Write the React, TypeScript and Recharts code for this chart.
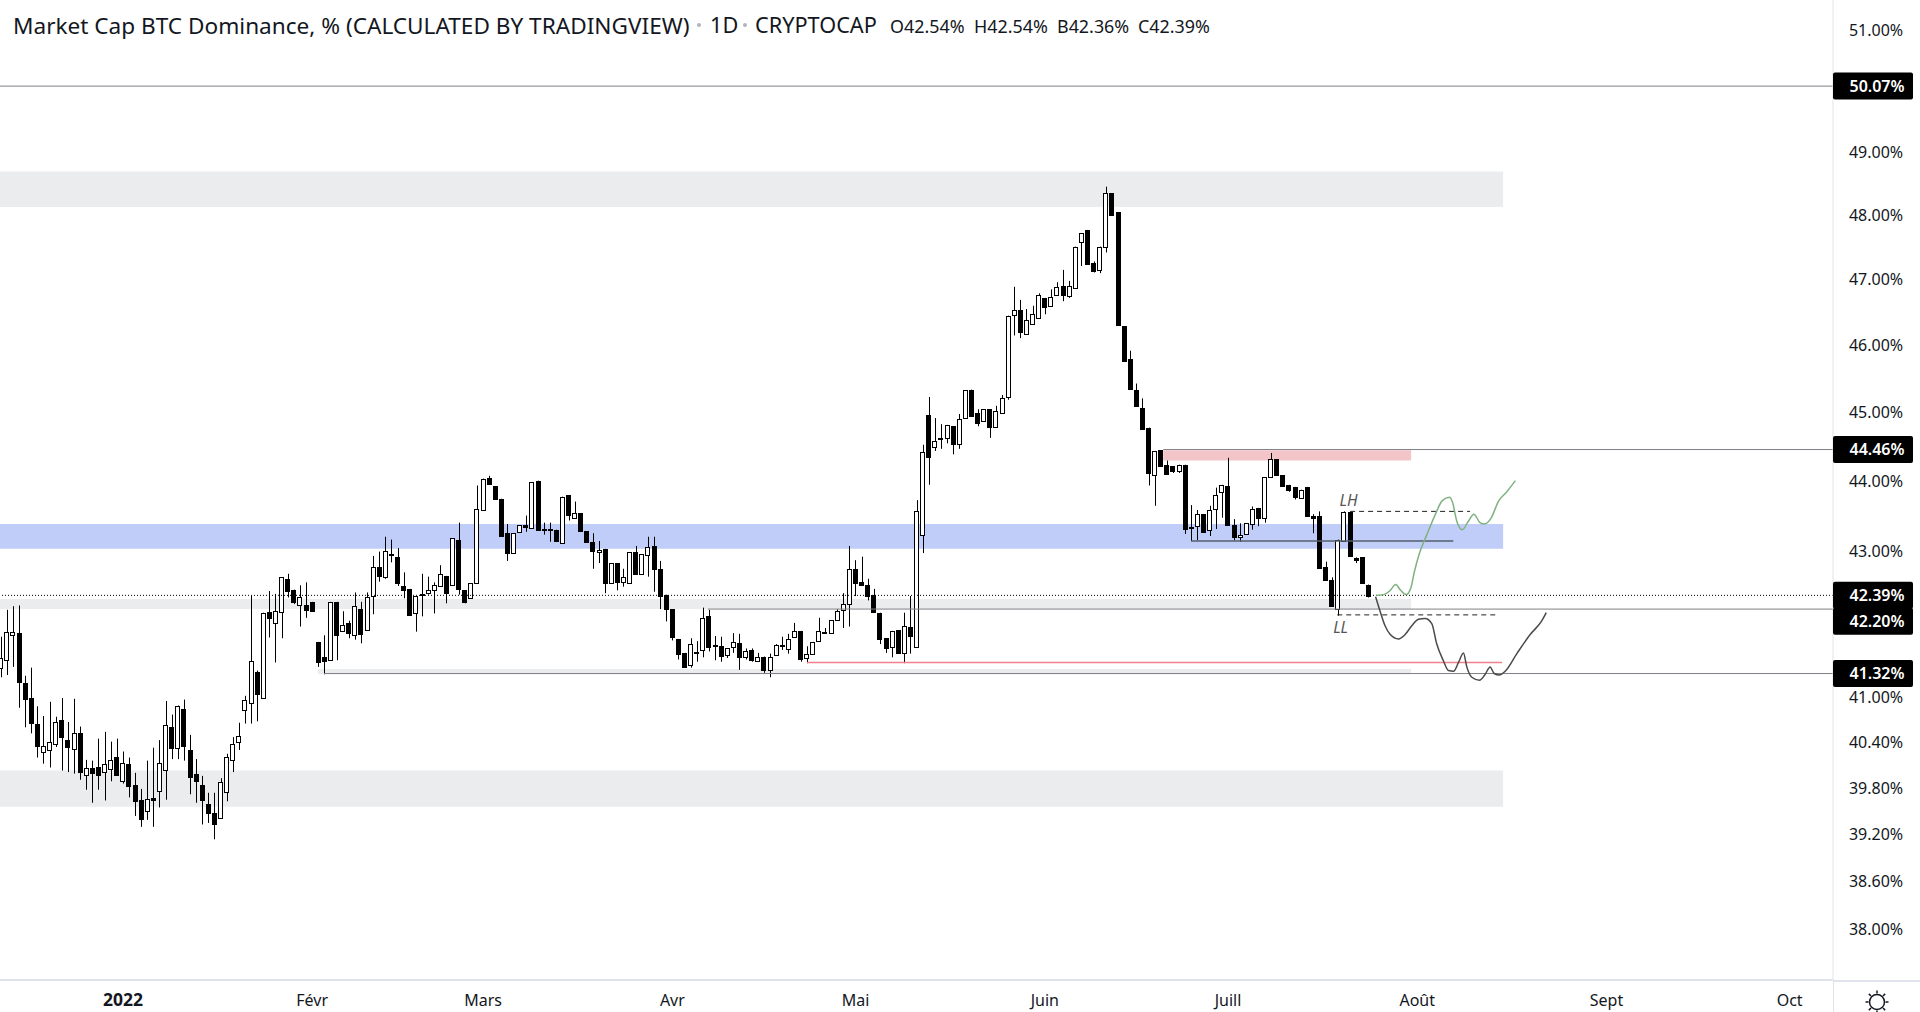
import { Bar, ComposedChart, Line, ReferenceArea, ReferenceDot, ReferenceLine, XAxis, YAxis } from 'recharts'

const opens = [
  41.40, 41.51, 41.85, 41.87, 41.19, 40.99, 40.64, 40.27, 40.30, 40.38, 40.70, 40.43, 40.32, 40.53, 39.97, 40.06, 40.08, 40.02, 40.05, 40.21,
  39.90, 40.12, 39.84, 39.64, 39.50, 39.67, 39.76, 40.04, 40.60, 40.33, 40.84, 40.30, 39.98, 39.84, 39.60, 39.48, 39.41, 39.75, 40.17, 40.41,
  40.83, 40.92, 41.34, 40.99, 42.16, 42.01, 42.15, 42.62, 42.47, 42.26, 42.26, 42.30, 41.75, 41.55, 41.50, 42.30, 41.90, 42.01, 41.84, 42.20,
  41.91, 42.38, 42.78, 42.64, 42.97, 42.93, 42.52, 42.48, 42.15, 42.39, 42.42, 42.47, 42.52, 42.66, 42.53, 43.16, 42.46, 42.35, 42.56, 43.60,
  44.05, 43.93, 43.75, 43.26, 42.98, 43.27, 43.37, 43.33, 44.01, 43.32, 43.32, 43.31, 43.13, 43.80, 43.48, 43.54, 43.29, 43.14, 43.00, 43.04,
  42.56, 42.84, 42.57, 42.56, 42.99, 42.68, 42.96, 43.08, 42.76, 42.40, 42.20, 41.79, 41.60, 41.43, 41.61, 41.64, 42.10, 41.71, 41.69, 41.57,
  41.68, 41.73, 41.54, 41.64, 41.50, 41.55, 41.38, 41.57, 41.71, 41.66, 41.82, 41.90, 41.52, 41.58, 41.76, 41.88, 41.87, 42.05, 42.19, 42.26,
  42.75, 42.58, 42.53, 42.40, 42.15, 41.80, 41.68, 41.91, 41.60, 41.95, 41.68, 43.23, 44.97, 44.50, 44.63, 44.63, 44.80, 44.53, 44.91, 45.34,
  44.99, 44.87, 45.05, 44.78, 45.00, 45.23, 46.46, 46.53, 46.17, 46.32, 46.42, 46.72, 46.60, 46.76, 46.90, 46.75, 46.87, 47.58, 47.77, 47.25,
  47.15, 47.51, 48.35, 48.05, 46.29, 45.80, 45.33, 45.07, 44.78, 44.09, 44.45, 44.23, 44.22, 44.15, 44.24, 43.35, 43.36, 43.53, 43.31, 43.60,
  43.85, 43.93, 43.38, 43.21, 43.24, 43.38, 43.62, 43.47, 44.06, 44.32, 44.09, 43.95, 43.92, 43.77, 43.92, 43.50, 43.50, 42.79, 42.61, 42.21,
  43.15, 43.56, 42.91, 42.92, 42.54,
]
const closes = [
  41.53, 41.89, 41.89, 41.20, 40.98, 40.65, 40.35, 40.35, 40.40, 40.67, 40.48, 40.34, 40.53, 40.02, 40.06, 40.00, 39.98, 40.12, 40.17, 39.98,
  40.13, 39.83, 39.63, 39.39, 39.66, 39.65, 40.13, 40.63, 40.32, 40.89, 40.35, 39.94, 39.89, 39.64, 39.48, 39.34, 39.88, 40.21, 40.38, 40.49,
  40.97, 41.49, 41.04, 42.15, 42.08, 42.18, 42.64, 42.46, 42.31, 42.37, 42.19, 42.18, 41.48, 41.50, 42.30, 41.84, 41.98, 41.87, 42.24, 41.86,
  42.37, 42.78, 42.65, 43.01, 42.95, 42.56, 42.47, 42.12, 42.38, 42.41, 42.46, 42.54, 42.69, 42.43, 43.19, 42.47, 42.29, 42.56, 43.60, 44.04,
  43.97, 43.74, 43.23, 42.98, 43.26, 43.37, 43.34, 43.99, 43.31, 43.30, 43.30, 43.15, 43.78, 43.51, 43.55, 43.28, 43.14, 43.02, 43.03, 42.56,
  42.84, 42.57, 42.64, 42.99, 42.68, 42.96, 43.07, 42.76, 42.39, 42.20, 41.81, 41.58, 41.41, 41.72, 41.59, 42.08, 41.67, 41.69, 41.55, 41.66,
  41.75, 41.54, 41.62, 41.50, 41.55, 41.37, 41.55, 41.71, 41.69, 41.79, 41.90, 41.52, 41.58, 41.75, 41.90, 41.87, 42.05, 42.18, 42.27, 42.75,
  42.56, 42.54, 42.38, 42.16, 41.80, 41.67, 41.90, 41.59, 41.97, 41.82, 43.58, 44.42, 44.36, 44.59, 44.62, 44.82, 44.53, 44.90, 45.33, 44.96,
  44.85, 45.05, 44.78, 45.02, 45.22, 46.45, 46.54, 46.19, 46.38, 46.47, 46.77, 46.58, 46.74, 46.88, 46.76, 46.90, 47.51, 47.72, 47.24, 47.13,
  47.51, 48.35, 48.01, 46.31, 45.76, 45.35, 45.10, 44.76, 44.12, 44.44, 44.22, 44.10, 44.15, 44.24, 43.32, 43.34, 43.53, 43.28, 43.59, 43.80,
  43.95, 43.37, 43.21, 43.24, 43.40, 43.60, 43.48, 44.06, 44.32, 44.09, 43.93, 43.88, 43.77, 43.88, 43.50, 43.47, 42.77, 42.61, 42.25, 43.17,
  43.56, 42.94, 42.88, 42.55, 42.39,
]
const highs = [
  41.82, 42.19, 42.24, 42.25, 41.29, 41.40, 40.88, 40.75, 40.94, 40.74, 40.99, 40.67, 40.98, 40.61, 40.17, 40.16, 40.45, 40.54, 40.41, 40.45,
  40.28, 40.20, 40.00, 39.79, 40.16, 40.33, 40.43, 40.95, 40.77, 40.89, 40.97, 40.50, 40.18, 39.96, 39.74, 39.74, 39.93, 40.25, 40.47, 40.66,
  41.02, 42.39, 41.36, 42.15, 42.45, 42.41, 42.64, 42.69, 42.47, 42.53, 42.57, 42.30, 41.75, 41.84, 42.30, 42.30, 42.17, 42.04, 42.43, 42.30,
  42.43, 42.94, 43.00, 43.21, 43.17, 43.05, 42.71, 42.48, 42.38, 42.69, 42.65, 42.57, 42.81, 42.66, 43.19, 43.41, 42.46, 42.56, 43.94, 44.04,
  44.08, 43.93, 43.75, 43.39, 43.26, 43.37, 43.51, 43.99, 44.01, 43.41, 43.41, 43.31, 43.78, 43.80, 43.71, 43.54, 43.29, 43.26, 43.15, 43.04,
  42.84, 42.84, 42.76, 42.99, 43.08, 42.96, 43.21, 43.21, 42.87, 42.40, 42.20, 41.79, 41.60, 41.80, 41.76, 42.22, 42.19, 41.83, 41.82, 41.66,
  41.87, 41.86, 41.66, 41.66, 41.60, 41.55, 41.59, 41.72, 41.82, 41.86, 42.01, 41.90, 41.69, 41.75, 42.08, 41.94, 42.05, 42.20, 42.42, 43.08,
  42.88, 42.93, 42.62, 42.48, 42.15, 41.80, 41.90, 41.91, 42.15, 42.38, 43.73, 44.53, 45.23, 44.92, 44.83, 44.82, 44.80, 44.98, 45.33, 45.34,
  45.05, 45.05, 45.05, 45.10, 45.26, 46.45, 46.89, 46.69, 46.55, 46.60, 46.79, 46.72, 46.85, 46.96, 47.15, 46.98, 47.51, 47.72, 47.77, 47.28,
  47.51, 48.45, 48.35, 48.05, 46.29, 45.92, 45.43, 45.21, 44.78, 44.44, 44.45, 44.30, 44.22, 44.24, 44.24, 43.66, 43.59, 43.53, 43.65, 43.91,
  43.95, 44.34, 43.46, 43.40, 43.40, 43.64, 43.62, 44.06, 44.41, 44.32, 44.09, 43.95, 43.92, 43.88, 43.92, 43.53, 43.57, 42.86, 42.64, 43.17,
  43.57, 43.56, 42.92, 42.92, 42.54,
]
const lows = [
  41.27, 41.30, 41.41, 40.86, 40.60, 40.52, 40.20, 40.12, 40.07, 40.34, 40.03, 40.01, 39.99, 39.91, 39.78, 39.61, 39.78, 39.64, 39.89, 39.98,
  39.86, 39.68, 39.44, 39.30, 39.39, 39.30, 39.55, 39.65, 40.18, 40.18, 40.16, 39.72, 39.61, 39.33, 39.35, 39.14, 39.41, 39.63, 40.01, 40.30,
  40.65, 40.65, 40.68, 40.99, 41.81, 41.47, 41.80, 42.36, 42.27, 41.96, 42.08, 42.17, 41.41, 41.31, 41.50, 41.50, 41.90, 41.80, 41.78, 41.73,
  41.91, 42.13, 42.58, 42.62, 42.85, 42.52, 42.35, 42.12, 41.89, 42.10, 42.40, 42.14, 42.52, 42.28, 42.53, 42.40, 42.28, 42.35, 42.56, 43.60,
  43.97, 43.74, 43.23, 42.87, 42.98, 43.27, 43.28, 43.33, 43.31, 43.24, 43.14, 43.14, 43.13, 43.44, 43.48, 43.28, 43.14, 42.76, 42.84, 42.42,
  42.56, 42.46, 42.51, 42.56, 42.68, 42.68, 42.65, 42.44, 42.20, 42.03, 41.77, 41.51, 41.41, 41.40, 41.48, 41.54, 41.62, 41.50, 41.48, 41.53,
  41.60, 41.37, 41.51, 41.48, 41.50, 41.33, 41.27, 41.57, 41.64, 41.59, 41.82, 41.48, 41.46, 41.58, 41.76, 41.86, 41.87, 42.05, 41.94, 41.96,
  42.38, 42.54, 42.32, 42.16, 41.72, 41.60, 41.54, 41.59, 41.46, 41.59, 41.68, 42.98, 43.95, 44.44, 44.47, 44.55, 44.39, 44.47, 44.91, 44.96,
  44.80, 44.87, 44.63, 44.78, 45.00, 45.19, 46.15, 46.11, 46.17, 46.32, 46.42, 46.47, 46.60, 46.76, 46.67, 46.72, 46.87, 47.21, 47.24, 47.11,
  47.10, 47.42, 48.01, 46.31, 45.76, 45.35, 45.10, 44.76, 43.94, 43.65, 44.22, 44.10, 44.12, 44.12, 43.25, 43.15, 43.16, 43.28, 43.22, 43.32,
  43.48, 43.37, 43.16, 43.14, 43.24, 43.31, 43.36, 43.41, 44.06, 44.09, 43.93, 43.85, 43.74, 43.77, 43.50, 43.26, 42.77, 42.61, 42.25, 42.11,
  43.15, 42.94, 42.84, 42.55, 42.36,
]

const monthTicks = [20, 51, 79, 110, 140, 171, 201, 232, 263, 293]
const monthLabels = ['2022', 'Févr', 'Mars', 'Avr', 'Mai', 'Juin', 'Juill', 'Août', 'Sept', 'Oct']
const priceTicks = [38, 38.6, 39.2, 39.8, 40.4, 41, 41.32, 42.2, 42.39, 43, 44, 44.46, 45, 46, 47, 48, 49, 50.07, 51]
const taggedPrices = [50.07, 44.46, 42.39, 42.2, 41.32]

// hand drawn scenarios right of the last candle
const greenX = [225.28, 226.48, 227.48, 228.48, 229.28, 230.18, 230.98, 231.48, 232.38, 233.58, 234.88, 236.08, 237.28, 237.78, 238.48, 239.38, 240.38, 241.28, 242.28, 242.98, 244.08, 245.28, 246.68, 248.08]
const greenY = [42.39, 42.40, 42.45, 42.54, 42.46, 42.40, 42.50, 42.70, 42.98, 43.24, 43.51, 43.72, 43.77, 43.70, 43.43, 43.31, 43.43, 43.53, 43.41, 43.39, 43.47, 43.71, 43.85, 44.01]
const blackX = [225.18, 225.88, 226.73, 227.58, 228.92, 230.01, 231.11, 232.2, 233.29, 234.38, 235.2, 236.3, 237.12, 237.94, 238.76, 239.57, 240.12, 240.94, 242.2, 243.13, 243.94, 244.6, 245.48, 246.4, 248.32, 250.5, 252.42, 253.13]
const blackY = [42.37, 42.18, 41.97, 41.85, 41.79, 41.85, 41.97, 42.06, 42.07, 42.00, 41.72, 41.49, 41.36, 41.35, 41.47, 41.60, 41.41, 41.27, 41.23, 41.31, 41.41, 41.32, 41.30, 41.35, 41.59, 41.85, 42.04, 42.15]

const candles = opens.map((open, i) => ({
  day: i,
  open,
  close: closes[i],
  wick: [lows[i], highs[i]],
  body: [Math.min(open, closes[i]), Math.max(open, closes[i])],
}))
const greenPath = greenX.map((day, i) => ({ day, price: greenY[i] }))
const blackPath = blackX.map((day, i) => ({ day, price: blackY[i] }))

const FONT = '"Noto Sans", sans-serif'
const INK = '#131722'
const BORDER = '#e0e3eb'
const FIRST_DAY = -0.13
const LAST_DAY = 300.1
const ZONE_GREY = '#ebecee'
const LINE_GREY = '#7f8186'

function Wick({ x, y, width, height }: any) {
  return <rect x={Math.floor(x + width / 2)} y={y} width={1} height={height} fill="#000" />
}

function Body({ x, y, width, height, payload }: any) {
  const up = payload.close >= payload.open
  return (
    <rect
      x={Math.floor(x + width / 2) - 1.5}
      y={Math.round(y) + 0.5}
      width={4}
      height={Math.max(Math.round(height), 1)}
      fill={up ? '#fff' : '#000'}
      stroke="#000"
    />
  )
}

function PriceTick({ x, y, payload }: any) {
  const value = payload.value
  const label = value.toFixed(2) + '%'
  if (taggedPrices.includes(value)) {
    const cy = value === 42.2 ? y + 12.2 : y
    return (
      <g>
        <rect x={x} y={cy - 13.5} width={80} height={27} rx={2} fill="#000" />
        <text x={x + 44} y={cy + 5.5} textAnchor="middle" fontFamily={FONT} fontSize={16} fontWeight={600} fill="#fff">{label}</text>
      </g>
    )
  }
  return <text x={x + 43} y={y + 5.7} textAnchor="middle" fontFamily={FONT} fontSize={16} fill={INK}>{label}</text>
}

function MonthTick({ x, payload }: any) {
  const label = monthLabels[monthTicks.indexOf(payload.value)]
  return <text x={x} y={1006} textAnchor="middle" fontFamily={FONT} fontSize={label === '2022' ? 17.5 : 16} fontWeight={label === '2022' ? 700 : 400} fill={INK}>{label}</text>
}

function SettingsIcon() {
  const rays = [0, 45, 90, 135, 180, 225, 270, 315]
  return (
    <svg width={30} height={30} style={{ position: 'absolute', left: 1862, top: 987 }}>
      <circle cx={15} cy={15} r={7.5} fill="none" stroke={INK} strokeWidth={1.5} />
      {rays.map((a) => (
        <line key={a} x1={15} y1={6.5} x2={15} y2={3.5} stroke={INK} strokeWidth={1.5} transform={`rotate(${a} 15 15)`} />
      ))}
    </svg>
  )
}

const headerItems = [
  { text: 'Market Cap BTC Dominance, % (CALCULATED BY TRADINGVIEW)', left: 13, size: 22.6, mid: 25 },
  { text: '1D', left: 710, size: 21.7, mid: 25 },
  { text: 'CRYPTOCAP', left: 755, size: 21.7, mid: 25 },
  { text: 'O42.54%', left: 890, size: 17.9, mid: 26 },
  { text: 'H42.54%', left: 974, size: 17.9, mid: 26 },
  { text: 'B42.36%', left: 1057, size: 17.9, mid: 26 },
  { text: 'C42.39%', left: 1138, size: 17.9, mid: 26 },
]

export default function App() {
  return (
    <div style={{ position: 'absolute', left: 0, top: 0, width: 1920, height: 1012, background: '#fff', overflow: 'hidden' }}>
      <ComposedChart width={1920} height={1012} data={candles} margin={{ top: 0, right: 0, bottom: 0, left: 0 }}>
        <XAxis
          xAxisId="main"
          dataKey="day"
          type="number"
          domain={[FIRST_DAY, LAST_DAY]}
          allowDataOverflow
          ticks={monthTicks}
          interval={0}
          height={32}
          tick={MonthTick}
          tickLine={false}
          axisLine={{ stroke: BORDER, strokeWidth: 2 }}
        />
        <XAxis xAxisId="wicks" dataKey="day" type="number" domain={[FIRST_DAY, LAST_DAY]} allowDataOverflow hide />
        <YAxis
          yAxisId="price"
          orientation="right"
          scale="log"
          domain={[37.38, 51.5]}
          allowDataOverflow
          ticks={priceTicks}
          interval={0}
          width={87}
          tick={PriceTick}
          tickLine={false}
          tickSize={0}
          tickMargin={0}
          axisLine={{ stroke: BORDER }}
        />

        <ReferenceArea xAxisId="main" yAxisId="price" x1={FIRST_DAY} x2={246.07} y1={48.13} y2={48.69} fill={ZONE_GREY} fillOpacity={1} stroke="none" />
        <ReferenceArea xAxisId="main" yAxisId="price" x1={FIRST_DAY} x2={246.07} y1={43.04} y2={43.39} fill="#c0cdf8" fillOpacity={1} stroke="none" />
        <ReferenceArea xAxisId="main" yAxisId="price" x1={FIRST_DAY} x2={231} y1={42.2} y2={42.34} fill={ZONE_GREY} fillOpacity={1} stroke="none" />
        <ReferenceArea xAxisId="main" yAxisId="price" x1={51.96} x2={231} y1={41.31} y2={41.38} fill={ZONE_GREY} fillOpacity={1} stroke="none" />
        <ReferenceArea xAxisId="main" yAxisId="price" x1={FIRST_DAY} x2={246.07} y1={39.56} y2={40.03} fill={ZONE_GREY} fillOpacity={1} stroke="none" />
        <ReferenceArea xAxisId="main" yAxisId="price" x1={190.4} x2={231} y1={44.3} y2={44.45} fill="#f3c5c9" fillOpacity={1} stroke="none" />

        <Bar xAxisId="wicks" yAxisId="price" dataKey="wick" barSize={1} shape={Wick} isAnimationActive={false} />
        <Bar xAxisId="main" yAxisId="price" dataKey="body" barSize={4} shape={Body} isAnimationActive={false} />

        <ReferenceLine xAxisId="main" yAxisId="price" y={50.07} stroke={LINE_GREY} />
        <ReferenceLine xAxisId="main" yAxisId="price" segment={[{ x: 190.4, y: 44.46 }, { x: LAST_DAY, y: 44.46 }]} stroke={LINE_GREY} />
        <ReferenceLine xAxisId="main" yAxisId="price" segment={[{ x: 115.8, y: 42.2 }, { x: LAST_DAY, y: 42.2 }]} stroke={LINE_GREY} />
        <ReferenceLine xAxisId="main" yAxisId="price" segment={[{ x: 52.94, y: 41.32 }, { x: LAST_DAY, y: 41.32 }]} stroke={LINE_GREY} />
        <ReferenceLine xAxisId="main" yAxisId="price" segment={[{ x: 132.06, y: 41.47 }, { x: 245.9, y: 41.47 }]} stroke="#f0808a" strokeWidth={1.5} />
        <ReferenceLine xAxisId="main" yAxisId="price" segment={[{ x: 194.95, y: 43.15 }, { x: 237.9, y: 43.15 }]} stroke="#555e6b" strokeWidth={1.5} />
        <ReferenceLine xAxisId="main" yAxisId="price" segment={[{ x: 221, y: 43.57 }, { x: 240.65, y: 43.57 }]} stroke="#222" strokeDasharray="5 4" />
        <ReferenceLine xAxisId="main" yAxisId="price" segment={[{ x: 218.9, y: 42.12 }, { x: 245.1, y: 42.12 }]} stroke="#222" strokeDasharray="5 4" />
        <ReferenceLine xAxisId="main" yAxisId="price" y={42.39} stroke="#000" strokeDasharray="1 2" />

        <Line xAxisId="main" yAxisId="price" data={greenPath} dataKey="price" type="monotone" dot={false} activeDot={false} stroke="#7fb27f" strokeWidth={1.5} isAnimationActive={false} />
        <Line xAxisId="main" yAxisId="price" data={blackPath} dataKey="price" type="monotone" dot={false} activeDot={false} stroke="#4a4a4a" strokeWidth={1.5} isAnimationActive={false} />

        <ReferenceDot xAxisId="main" yAxisId="price" x={220.75} y={43.72} r={0} stroke="none" fill="none" label={{ value: 'LH', position: 'center', fontStyle: 'italic', fontSize: 15.5, fontFamily: FONT, fill: '#555' }} />
        <ReferenceDot xAxisId="main" yAxisId="price" x={219.45} y={41.95} r={0} stroke="none" fill="none" label={{ value: 'LL', position: 'center', fontStyle: 'italic', fontSize: 15.5, fontFamily: FONT, fill: '#555' }} />
      </ComposedChart>

      <div style={{ position: 'absolute', left: 1833, top: 980, width: 87, height: 2, background: BORDER }} />
      <div style={{ position: 'absolute', left: 1833, top: 980, width: 1, height: 32, background: BORDER }} />
      <SettingsIcon />

      {headerItems.map((h) => (
        <span key={h.text} style={{ position: 'absolute', left: h.left, top: h.mid - h.size * 0.68, fontFamily: FONT, fontSize: h.size, color: INK, whiteSpace: 'nowrap' }}>
          {h.text}
        </span>
      ))}
      <span style={{ position: 'absolute', left: 697, top: 23, width: 4, height: 4, borderRadius: 2, background: '#b2b5be' }} />
      <span style={{ position: 'absolute', left: 743, top: 23, width: 4, height: 4, borderRadius: 2, background: '#b2b5be' }} />
    </div>
  )
}
